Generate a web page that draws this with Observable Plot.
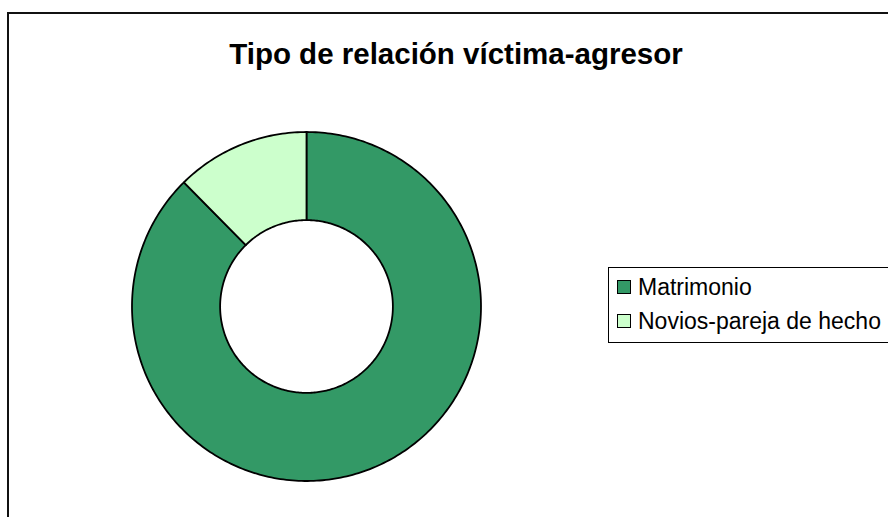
<!DOCTYPE html>
<html>
<head>
<meta charset="utf-8">
<script src="https://cdn.jsdelivr.net/npm/d3@7"></script>
<script src="https://cdn.jsdelivr.net/npm/@observablehq/plot@0.6"></script>
<style>
  html, body { margin: 0; padding: 0; background: #fff; }
  #wrap { position: relative; width: 888px; height: 517px; overflow: hidden; font-family: "Liberation Sans", Arial, sans-serif; }
  #frame { position: absolute; left: 7px; top: 12px; width: 1000px; height: 1000px; border: 2px solid #111; box-sizing: border-box; }
  #title { position: absolute; left: 0; top: 37px; width: 912px; text-align: center; font-weight: bold; font-size: 29.5px; color: #000; }
  #legend { position: absolute; left: 608px; top: 267px; width: 400px; height: 76px; border: 1px solid #000; box-sizing: border-box; background: #fff; }
  .item { position: absolute; left: 8px; font-size: 23px; white-space: nowrap; line-height: 22px; }
  .sw { display: inline-block; width: 12px; height: 12px; border: 1px solid #000; margin-right: 7px; vertical-align: 1px; }
  #chart { position: absolute; left: 0; top: 0; }
</style>
</head>
<body>
<div id="wrap">
  <div id="frame"></div>
  <div id="chart"></div>
  <div id="title">Tipo de relación víctima-agresor</div>
  <div id="legend"></div>
</div>
<script>
const categories = ["Matrimonio", "Novios-pareja de hecho"];
const values = [87.6, 12.4];
const colors = ["#339966", "#CCFFCC"];
const title = "Tipo de relación víctima-agresor";

const innerRatio = 0.495;
const pie = d3.pie().sort(null).value(d => d.value)(categories.map((c, i) => ({name: c, value: values[i]})));

// slice outlines as polygons in unit-circle coordinates
function slicePoints(a0, a1, name) {
  const pts = [];
  const n = Math.max(8, Math.ceil((a1 - a0) / (Math.PI / 180)));
  for (let k = 0; k <= n; k++) {
    const a = a0 + (a1 - a0) * k / n;
    pts.push({name, x: Math.sin(a), y: Math.cos(a)});
  }
  for (let k = n; k >= 0; k--) {
    const a = a0 + (a1 - a0) * k / n;
    pts.push({name, x: innerRatio * Math.sin(a), y: innerRatio * Math.cos(a)});
  }
  pts.push(pts[0]);
  return pts;
}

const slices = pie.map(p => ({name: p.data.name, pts: slicePoints(p.startAngle, p.endAngle, p.data.name)}));

const chart = Plot.plot({
  width: 888,
  height: 517,
  margin: 0,
  x: {domain: [-1, 1], range: [131.5, 480.5], axis: null},
  y: {domain: [-1, 1], range: [480.5, 131.5], axis: null},
  color: {domain: categories, range: colors},
  style: {background: "transparent"},
  marks: slices.map(s => Plot.line(s.pts, {x: "x", y: "y", fill: colors[categories.indexOf(s.name)], stroke: "#000", strokeWidth: 1.8, curve: "linear-closed"}))
});
document.getElementById("chart").appendChild(chart);

const legend = document.getElementById("legend");
categories.forEach((c, i) => {
  const it = document.createElement("div");
  it.className = "item";
  it.style.top = (8 + i * 34) + "px";
  it.innerHTML = `<span class="sw" style="background:${colors[i]}"></span>${c}`;
  legend.appendChild(it);
});
</script>
</body>
</html>
